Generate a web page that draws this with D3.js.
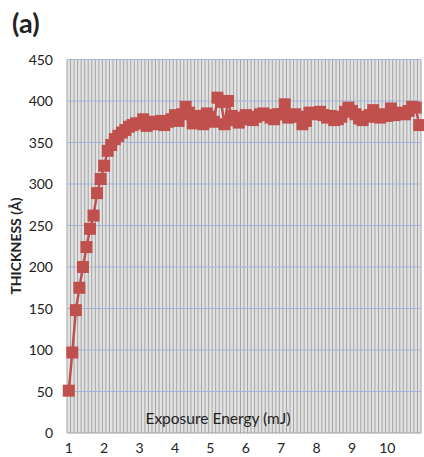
<!DOCTYPE html>
<html>
  <head>
    <meta charset="UTF-8">
    <title>Thickness vs exposure energy</title>
    <script src="https://d3js.org/d3.v7.min.js"></script>
    <style>
      body { margin: 0; background: #fff; }
      text { font-family: Lato, "Open Sans", sans-serif; fill: #222; }
    </style>
  </head>
  <body>
    <svg width="424" height="457"></svg>

    <script>

// exposure energy categories, 1.0 .. 10.9 mJ in 0.1 steps
const energies = d3.range(100).map(i => +(1 + i * 0.1).toFixed(1));

// thickness (Å)
const thickness = [
  51, 97, 148, 175, 200, 224, 246, 262, 289, 306,
  322, 340, 347, 354, 358, 362, 365, 369, 371, 373,
  373, 378, 370, 375, 372, 374, 376, 371, 375, 378,
  383, 376, 384, 393, 386, 373, 378, 382, 372, 385,
  381, 375, 404, 399, 372, 400, 382, 377, 374, 380,
  383, 378, 377, 381, 384, 385, 383, 380, 378, 384,
  384, 396, 380, 382, 384, 381, 372, 376, 386, 385,
  384, 387, 383, 380, 382, 377, 378, 381, 387, 392,
  388, 384, 379, 377, 381, 383, 389, 381, 380, 384,
  382, 391, 383, 385, 386, 384, 388, 393, 392, 371
];

const xTickLabels = ["1", "2", "3", "4", "5", "6", "7", "8", "9", "10"];
const yTicks = [0, 50, 100, 150, 200, 250, 300, 350, 400, 450];

const data = energies.map((e, i) => ({ e: e, t: thickness[i] }));

const svg = d3.select("svg");
const plotL = 67, plotR = 421, plotT = 59.5, plotB = 433;

const x = d3.scaleBand()
  .domain(energies)
  .range([plotL, plotR]);

const y = d3.scaleLinear()
  .domain([0, 450])
  .range([plotB, plotT]);

// plot background
svg.append("rect")
  .attr("x", plotL).attr("y", plotT)
  .attr("width", plotR - plotL).attr("height", plotB - plotT)
  .attr("fill", "#e2e2e2");

// vertical gridlines, one per category boundary
const bounds = energies.map(e => x(e)).concat([plotR]);
svg.append("g")
  .selectAll("line")
  .data(bounds)
  .join("line")
  .attr("x1", d => d).attr("x2", d => d)
  .attr("y1", plotT).attr("y2", plotB)
  .attr("stroke", "#a4a4a4")
  .attr("stroke-width", 1);

// horizontal gridlines
svg.append("g")
  .selectAll("line")
  .data(yTicks.slice(1))
  .join("line")
  .attr("x1", plotL).attr("x2", plotR)
  .attr("y1", d => y(d)).attr("y2", d => y(d))
  .attr("stroke", "#9fb6dc")
  .attr("stroke-width", 1.2);

// axis line
svg.append("line")
  .attr("x1", plotL).attr("x2", plotR)
  .attr("y1", plotB).attr("y2", plotB)
  .attr("stroke", "#a0a0a0");

// y tick labels
svg.append("g")
  .selectAll("text")
  .data(yTicks)
  .join("text")
  .attr("x", 53)
  .attr("y", d => y(d) + 5)
  .attr("text-anchor", "end")
  .attr("font-size", 14)
  .text(d => d);

// x tick labels every 10 categories
svg.append("g")
  .selectAll("text")
  .data(xTickLabels)
  .join("text")
  .attr("x", d => x(+d) + x.bandwidth() / 2)
  .attr("y", 453)
  .attr("text-anchor", "middle")
  .attr("font-size", 14)
  .text(d => d);

// series
const line = d3.line()
  .x(d => x(d.e) + x.bandwidth() / 2)
  .y(d => y(d.t));

svg.append("path")
  .datum(data)
  .attr("fill", "none")
  .attr("stroke", "#c0504d")
  .attr("stroke-width", 2.5)
  .attr("d", line);

const ms = 12;
svg.append("g")
  .selectAll("rect")
  .data(data)
  .join("rect")
  .attr("x", d => x(d.e) + x.bandwidth() / 2 - ms / 2)
  .attr("y", d => y(d.t) - ms / 2)
  .attr("width", ms).attr("height", ms)
  .attr("fill", "#c0504d");

// titles
svg.append("text")
  .attr("x", 218)
  .attr("y", 424)
  .attr("text-anchor", "middle")
  .attr("font-size", 15.5)
  .text("Exposure Energy (mJ)");

svg.append("text")
  .attr("transform", "translate(21,246) rotate(-90)")
  .attr("text-anchor", "middle")
  .attr("font-size", 14)
  .attr("font-weight", "bold")
  .text("THICKNESS (Å)");

svg.append("text")
  .attr("x", 12)
  .attr("y", 33)
  .attr("font-size", 27)
  .attr("font-weight", "bold")
  .text("(a)");

    </script>
  </body>
</html>
